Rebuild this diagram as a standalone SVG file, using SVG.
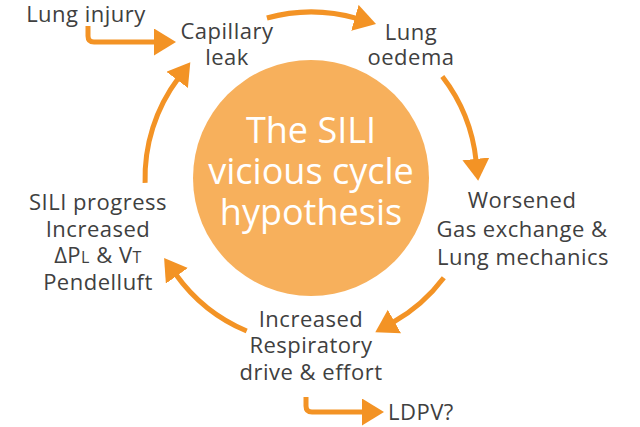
<svg xmlns="http://www.w3.org/2000/svg" width="640" height="427" viewBox="0 0 640 427">
<style>
.lbl{font-family:"Open Sans","Liberation Sans",sans-serif;font-size:22px;letter-spacing:0.5px;fill:#404040;text-anchor:middle}
.big{font-family:"Open Sans","Liberation Sans",sans-serif;font-size:36px;fill:#ffffff;text-anchor:middle}
.arr{fill:none;stroke:#F39325;stroke-width:5}
</style>
<defs>
<marker id="ah" markerUnits="userSpaceOnUse" markerWidth="24" markerHeight="28" refX="2" refY="13.5" orient="auto">
<path d="M0,0 L22,13.5 L0,27 z" fill="#F39325"/>
</marker>
</defs>
<rect width="640" height="427" fill="#ffffff"/>
<g id="center">
<circle cx="311" cy="178" r="118" fill="#F7B05C"/>
<text class="big" x="311" y="143">The SILI</text>
<text class="big" x="311" y="184">vicious cycle</text>
<text class="big" x="311" y="225">hypothesis</text>
</g>
<g id="connectors">
<path class="arr" d="M88,26 V36 Q88,42 94,42 H156" marker-end="url(#ah)"/>
<path class="arr" d="M266.9,18 A166,166 0 0 1 356.8,18.4" marker-end="url(#ah)"/>
<path class="arr" d="M442.3,76.5 A166,166 0 0 1 476.1,160.9" marker-end="url(#ah)"/>
<path class="arr" d="M443.8,277.7 A166,166 0 0 1 392.7,322.5" marker-end="url(#ah)"/>
<path class="arr" d="M246.7,331 A166,166 0 0 1 175.7,274.2" marker-end="url(#ah)"/>
<path class="arr" d="M145.1,182.9 A166,166 0 0 1 178.3,78.3" marker-end="url(#ah)"/>
<path class="arr" d="M306,397 V406 Q306,412 312,412 H364" marker-end="url(#ah)"/>
</g>
<g id="lung-injury"><text class="lbl" x="86" y="22">Lung injury</text></g>
<g id="capillary-leak"><text class="lbl" x="227" y="39">Capillary</text><text class="lbl" x="227" y="65">leak</text></g>
<g id="lung-oedema"><text class="lbl" x="411" y="40">Lung</text><text class="lbl" x="411" y="65">oedema</text></g>
<g id="worsened"><text class="lbl" x="522" y="208">Worsened</text><text class="lbl" x="522" y="237">Gas exchange &amp;</text><text class="lbl" x="523" y="265">Lung mechanics</text></g>
<g id="increased-drive"><text class="lbl" x="311" y="327">Increased</text><text class="lbl" x="311" y="353">Respiratory</text><text class="lbl" x="311" y="380">drive &amp; effort</text></g>
<g id="sili-progress"><text class="lbl" x="98" y="210">SILI progress</text><text class="lbl" x="98" y="237">Increased</text><text class="lbl" x="98" y="263">ΔP<tspan font-size="16">L</tspan> &amp; V<tspan font-size="16">T</tspan></text><text class="lbl" x="98" y="290">Pendelluft</text></g>
<g id="ldpv"><text class="lbl" x="388" y="420" style="text-anchor:start">LDPV?</text></g>
</svg>
